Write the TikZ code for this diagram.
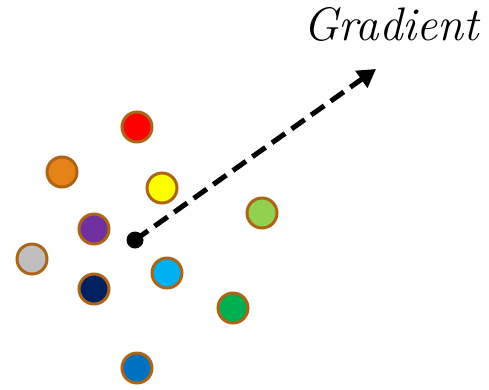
\documentclass[tikz,border=0pt]{standalone}
\usetikzlibrary{arrows.meta}
\definecolor{rimc}{RGB}{172,100,22}
\definecolor{cred}{RGB}{255,0,0}
\definecolor{corange}{RGB}{229,130,24}
\definecolor{cyellow}{RGB}{255,255,0}
\definecolor{clgreen}{RGB}{146,208,80}
\definecolor{cpurple}{RGB}{112,48,160}
\definecolor{cgray}{RGB}{191,191,191}
\definecolor{ccyan}{RGB}{0,176,240}
\definecolor{cnavy}{RGB}{0,32,96}
\definecolor{cgreen}{RGB}{0,176,80}
\definecolor{cblue}{RGB}{0,112,192}
\tikzset{
  ball/.style={circle, draw=rimc, line width=3pt, minimum size=30pt, inner sep=0pt},
  grad/.style={line width=5pt, dash pattern=on 16pt off 8pt, -{Triangle[length=18pt,width=20pt]}}
}
\begin{document}
\begin{tikzpicture}[x=1pt,y=-1pt]
\useasboundingbox (0,0) rectangle (489,389);
\node[ball, fill=cred]    (r)  at (137,127) {};
\node[ball, fill=corange] (o)  at (62,172) {};
\node[ball, fill=cyellow] (y)  at (162,188) {};
\node[ball, fill=clgreen] (lg) at (262,213) {};
\node[ball, fill=cpurple] (p)  at (94,229) {};
\node[ball, fill=cgray]   (g)  at (32,259) {};
\node[ball, fill=ccyan]   (c)  at (167,273) {};
\node[ball, fill=cnavy]   (n)  at (94,289) {};
\node[ball, fill=cgreen]  (gr) at (233,308) {};
\node[ball, fill=cblue]   (b)  at (137,368) {};
\node[circle, fill=black, minimum size=17pt, inner sep=0pt] (d) at (135,240) {};
\coordinate (tip) at (376,69);
\draw[grad] (d.center) -- (tip);
\node[anchor=base, inner sep=0pt] (t) at (391,40) {\resizebox{176pt}{!}{\fontsize{30}{30}\selectfont\itshape Gradient}};
\end{tikzpicture}
\end{document}
